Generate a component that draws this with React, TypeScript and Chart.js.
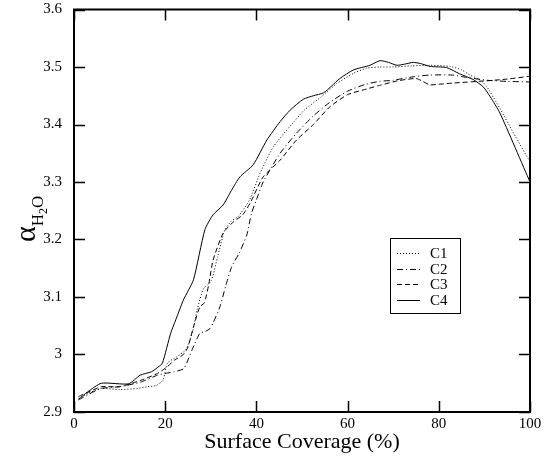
import React, { useEffect, useRef } from "react";
import { Chart, registerables } from "chart.js";

Chart.register(...registerables);

// ---- data ----
const xTickValues = [0, 20, 40, 60, 80, 100];
const yTickValues = [2.9, 3.0, 3.1, 3.2, 3.3, 3.4, 3.5, 3.6];

const seriesNames = ["C1", "C2", "C3", "C4"];

const c1X = [1, 3, 6, 10, 14, 16, 18, 19.5, 20.5, 22.5, 24.5, 26, 27, 28.4, 29.3, 30.2, 31.5, 33, 34.5, 36, 38.5, 40.8, 43.7, 47.6, 50.5, 54.2, 57.6, 61.3, 64.2, 67, 70, 74, 78, 82.5, 85, 86.8, 89, 90.5, 92, 93.4, 96.4, 100];
const c1Y = [2.924, 2.932, 2.941, 2.939, 2.941, 2.944, 2.946, 2.955, 2.985, 2.996, 3.008, 3.04, 3.078, 3.115, 3.121, 3.13, 3.17, 3.215, 3.232, 3.24, 3.269, 3.315, 3.361, 3.399, 3.425, 3.448, 3.471, 3.489, 3.498, 3.5, 3.5, 3.502, 3.503, 3.501, 3.495, 3.486, 3.478, 3.466, 3.447, 3.428, 3.385, 3.335];

const c2X = [1, 3, 6, 10, 14.6, 18.3, 20, 22, 24, 24.7, 26, 27.6, 28.8, 29.8, 30.5, 32, 33.3, 34.6, 36.2, 37.9, 38.9, 40, 41.5, 45.2, 48.8, 52.5, 56, 60, 64, 67, 70, 74.4, 78, 83, 86, 90.5, 95, 100];
const c2Y = [2.921, 2.93, 2.941, 2.944, 2.952, 2.964, 2.967, 2.97, 2.975, 2.985, 3.01, 3.037, 3.04, 3.045, 3.055, 3.083, 3.12, 3.153, 3.176, 3.208, 3.245, 3.269, 3.3, 3.35, 3.385, 3.415, 3.438, 3.458, 3.47, 3.475, 3.477, 3.483, 3.486, 3.486, 3.482, 3.477, 3.475, 3.474];

const c3X = [1, 3, 6, 10, 14.6, 18.3, 20.5, 22, 24, 25, 26.2, 27.6, 28.6, 29.5, 30.5, 32.7, 35, 37, 38.6, 41.5, 45.2, 48.8, 52.5, 56, 60, 63.4, 67, 71, 75, 76.5, 78, 80, 83, 90.5, 95, 100];
const c3Y = [2.927, 2.934, 2.944, 2.944, 2.955, 2.967, 2.979, 2.99, 3.0, 3.013, 3.048, 3.083, 3.09, 3.12, 3.164, 3.211, 3.231, 3.243, 3.263, 3.309, 3.338, 3.373, 3.4, 3.43, 3.452, 3.46, 3.468, 3.476, 3.48, 3.475, 3.469, 3.47, 3.472, 3.476, 3.479, 3.484];

const c4X = [1, 3, 6, 12, 14.5, 17, 18.6, 19.4, 21.2, 22.3, 24, 26.2, 28.7, 30.5, 32.7, 34.5, 36.4, 39.3, 42.3, 45.2, 47.4, 50.3, 52.5, 54.7, 56.5, 58.3, 61.3, 64.9, 67.1, 69, 70.8, 72.5, 74.4, 76, 78.1, 81.7, 84.6, 87.6, 89.8, 91.3, 93.4, 100];
const c4Y = [2.922, 2.935, 2.95, 2.949, 2.964, 2.97, 2.979, 2.985, 3.037, 3.06, 3.095, 3.13, 3.217, 3.243, 3.26, 3.285, 3.309, 3.33, 3.373, 3.405, 3.425, 3.444, 3.45, 3.455, 3.467, 3.48, 3.495, 3.503, 3.511, 3.508, 3.503, 3.505, 3.508, 3.506, 3.501, 3.499, 3.488, 3.478, 3.465, 3.448, 3.42, 3.3];

const xTitle = "Surface Coverage (%)";

const FONT = "'Liberation Serif', 'DejaVu Serif', serif";

function toPoints(xs: number[], ys: number[]) {
  return xs.map((x, i) => ({ x, y: ys[i] }));
}

const dashes: number[][] = [[1, 2], [6, 3, 1, 3], [5, 3], []];

const decorPlugin = {
  id: "decor",
  afterDatasetsDraw(chart: any) {
    const { ctx, chartArea, scales } = chart;
    const { left, right, top, bottom } = chartArea;
    const xs = scales.x;
    const ys = scales.y;
    ctx.save();
    ctx.strokeStyle = "#000";
    // ticks (inward, all sides)
    ctx.lineWidth = 1.5;
    const tl = 11;
    ctx.beginPath();
    xTickValues.forEach((v) => {
      const px = Math.round(xs.getPixelForValue(v)) + 0.5;
      ctx.moveTo(px, bottom);
      ctx.lineTo(px, bottom - tl);
      ctx.moveTo(px, top);
      ctx.lineTo(px, top + tl);
    });
    yTickValues.forEach((v) => {
      const py = Math.round(ys.getPixelForValue(v)) + 0.5;
      ctx.moveTo(left, py);
      ctx.lineTo(left + tl, py);
      ctx.moveTo(right, py);
      ctx.lineTo(right - tl, py);
    });
    ctx.stroke();
    // frame
    ctx.lineWidth = 2;
    ctx.strokeRect(left, top, right - left, bottom - top);

    // legend box
    const lx = left + (right - left) * 0.693;
    const ly = top + (bottom - top) * 0.568;
    const lw = 70;
    const lh = 75;
    ctx.lineWidth = 1;
    ctx.strokeRect(Math.round(lx) + 0.5, Math.round(ly) + 0.5, lw, lh);
    ctx.font = `15px ${FONT}`;
    ctx.fillStyle = "#000";
    ctx.textBaseline = "middle";
    ctx.textAlign = "left";
    chart.data.datasets.forEach((ds: any, i: number) => {
      const ry = Math.round(ly + 15 + i * 15.6) + 0.5;
      ctx.beginPath();
      ctx.setLineDash(ds.borderDash || []);
      ctx.lineWidth = 1;
      ctx.moveTo(lx + 7, ry);
      ctx.lineTo(lx + 30, ry);
      ctx.stroke();
      ctx.setLineDash([]);
      ctx.fillText(ds.label, lx + 40, ry + 1);
    });
    ctx.restore();
  },
  afterDraw(chart: any) {
    const { ctx, chartArea } = chart;
    const { left, right, top, bottom } = chartArea;
    ctx.save();
    ctx.fillStyle = "#000";
    // x title
    ctx.font = `22px ${FONT}`;
    ctx.textAlign = "center";
    ctx.textBaseline = "alphabetic";
    ctx.fillText(xTitle, (left + right) / 2, 448);
    // y title: alpha with subscript H2O
    const cy = (top + bottom) / 2 + 8;
    ctx.translate(35, cy);
    ctx.rotate(-Math.PI / 2);
    ctx.textAlign = "left";
    const bigF = `30px ${FONT}`;
    const subF = `17px ${FONT}`;
    const subsubF = `12px ${FONT}`;
    ctx.font = bigF;
    const wA = ctx.measureText("α").width;
    ctx.font = subF;
    const wH = ctx.measureText("H").width;
    const wO = ctx.measureText("O").width;
    ctx.font = subsubF;
    const w2 = ctx.measureText("2").width;
    const total = wA + wH + w2 + wO;
    let x0 = -total / 2;
    ctx.font = bigF;
    ctx.fillText("α", x0, 0);
    x0 += wA;
    ctx.font = subF;
    ctx.fillText("H", x0, 8);
    x0 += wH;
    ctx.font = subsubF;
    ctx.fillText("2", x0, 12);
    x0 += w2;
    ctx.font = subF;
    ctx.fillText("O", x0, 8);
    ctx.restore();
  },
};

export default function App() {
  const ref = useRef<HTMLCanvasElement | null>(null);
  useEffect(() => {
    document.body.style.margin = "0";
    const canvas = ref.current;
    if (!canvas) return;
    const all = [
      [c1X, c1Y],
      [c2X, c2Y],
      [c3X, c3Y],
      [c4X, c4Y],
    ];
    const chart = new Chart(canvas, {
      type: "line",
      data: {
        datasets: all.map(([xs, ys], i) => ({
          label: seriesNames[i],
          data: toPoints(xs as number[], ys as number[]),
          borderColor: "#000",
          borderWidth: 1,
          borderDash: dashes[i],
          pointRadius: 0,
          tension: 0.2,
          fill: false,
        })),
      },
      options: {
        animation: false,
        responsive: false,
        maintainAspectRatio: false,
        layout: { padding: { top: 9.5, right: 25, left: 0, bottom: 0 } },
        plugins: { legend: { display: false }, tooltip: { enabled: false } },
        scales: {
          x: {
            type: "linear",
            min: 0,
            max: 100,
            grid: { display: false, drawTicks: false },
            border: { display: false },
            afterBuildTicks: (s: any) => {
              s.ticks = xTickValues.map((v) => ({ value: v }));
            },
            ticks: {
              color: "#000",
              font: { family: FONT, size: 15 },
              padding: 3,
              maxRotation: 0,
              callback: (v: any) => String(v),
            },
            afterFit: (s: any) => {
              s.height = 47;
              s.paddingLeft = 0;
              s.paddingRight = 0;
            },
          },
          y: {
            type: "linear",
            min: 2.9,
            max: 3.6,
            grid: { display: false, drawTicks: false },
            border: { display: false },
            afterBuildTicks: (s: any) => {
              s.ticks = yTickValues.map((v) => ({ value: v }));
            },
            ticks: {
              color: "#000",
              font: { family: FONT, size: 15 },
              padding: 12,
              callback: (v: any) => String(Math.round(Number(v) * 10) / 10),
            },
            afterFit: (s: any) => {
              s.width = 74;
              s.paddingTop = 0;
              s.paddingBottom = 0;
            },
          },
        },
      },
      plugins: [decorPlugin],
    });
    return () => chart.destroy();
  }, []);
  return (
    <div style={{ position: "absolute", left: 0, top: 0, width: 555, height: 459 }}>
      <canvas ref={ref} width={555} height={459} style={{ width: 555, height: 459 }} />
    </div>
  );
}
